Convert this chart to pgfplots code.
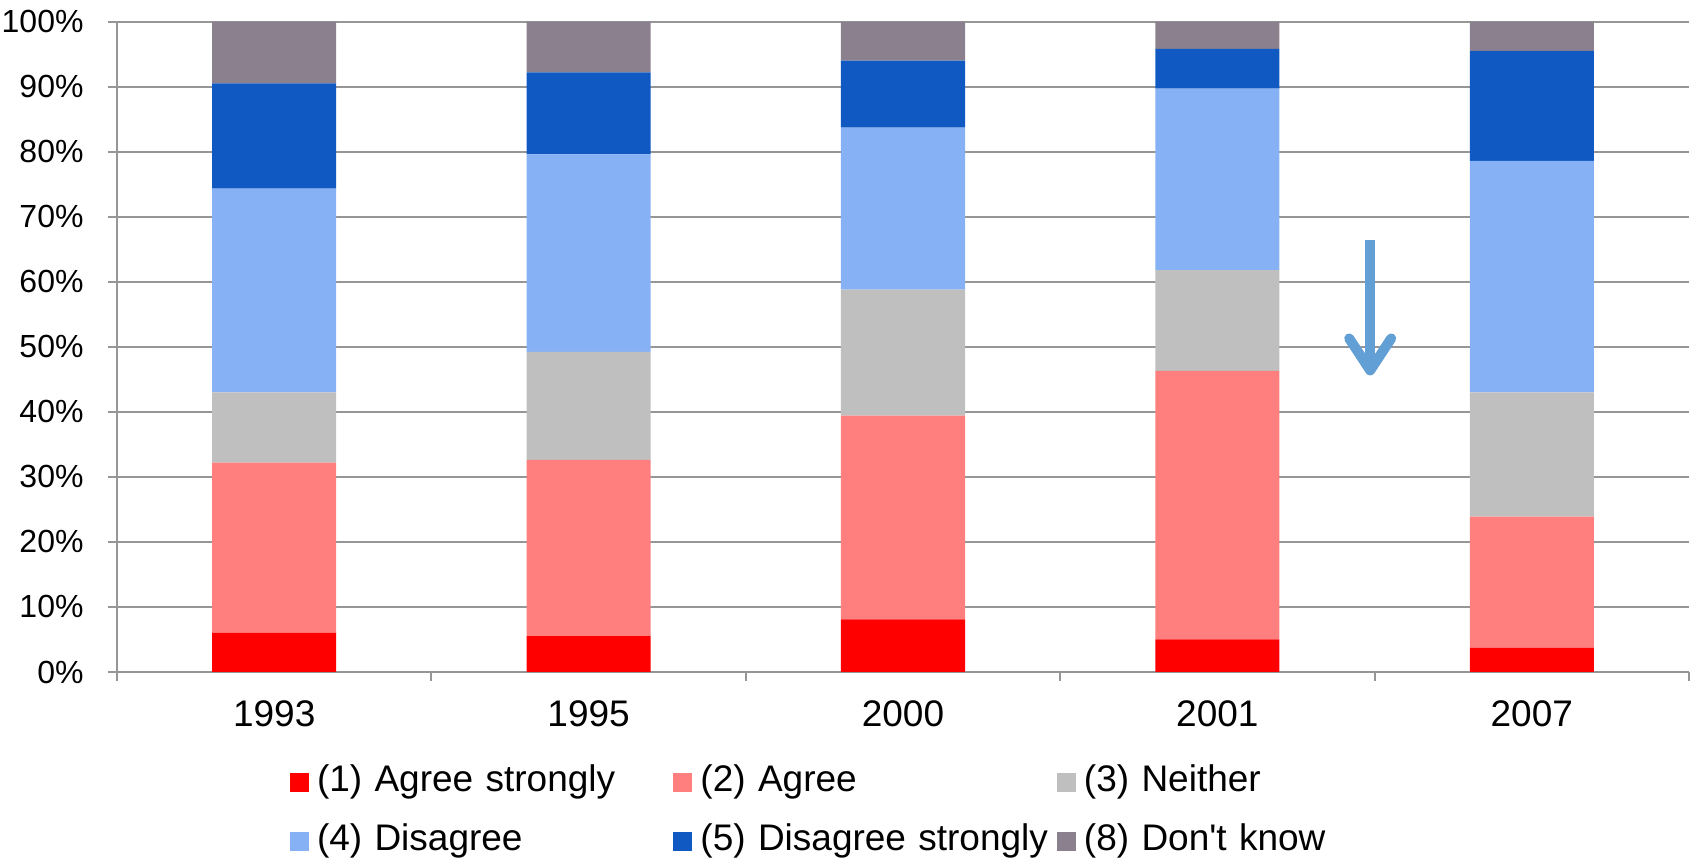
\documentclass[border=0pt]{standalone}
\usepackage{fontspec}
\setmainfont{Liberation Sans}
\usepackage{pgfplots}
\pgfplotsset{compat=1.18}
\usetikzlibrary{arrows.meta}
\definecolor{cA}{RGB}{255,0,0}
\definecolor{cB}{RGB}{255,127,127}
\definecolor{cC}{RGB}{191,191,191}
\definecolor{cD}{RGB}{134,178,245}
\definecolor{cE}{RGB}{16,89,194}
\definecolor{cF}{RGB}{139,128,141}
\definecolor{axgray}{RGB}{150,150,150}
\definecolor{arrowc}{RGB}{98,159,212}
\begin{document}
\begin{tikzpicture}
\begin{axis}[
  scale only axis, width=786pt, height=325.2pt,
  xmin=-0.5, xmax=4.5, ymin=0, ymax=100,
  ybar stacked, bar width=62pt,
  axis lines=left, axis line style={-, draw=axgray, line width=1pt},
  ymajorgrids, grid style={draw=axgray, line width=1pt},
  ytick={0,10,...,100},
  yticklabels={0\%,10\%,20\%,30\%,40\%,50\%,60\%,70\%,80\%,90\%,100\%},
  yticklabel style={xshift=-8.7pt, font=\fontsize{16}{19}\selectfont},
  tick align=outside, major tick length=4.5pt,
  tick style={draw=axgray, line width=1pt},
  xtick={-0.5,0.5,1.5,2.5,3.5,4.5}, xticklabels={},
  extra x ticks={0,1,2,3,4},
  extra x tick labels={1993,1995,2000,2001,2007},
  extra x tick style={major tick length=0pt, tick label style={yshift=-11pt, font=\fontsize{18.5}{21}\selectfont}},
  sq/.style={legend image code/.code={\fill[##1] (0pt,-4.75pt) rectangle (9.5pt,4.75pt); \path (13.5pt,0pt);}},
  legend columns=3, legend cell align=left,
  legend style={draw=none, fill=none, inner sep=0pt, outer sep=0pt,
    at={(0,0)}, anchor=north west, xshift=86.5pt, yshift=-46.5pt,
    font=\fontsize{18.5}{21}\selectfont,
    nodes={text width=178.25pt, inner xsep=0pt, inner ysep=0pt, text height=13.5pt, text depth=4pt},
    column sep=0pt, row sep=12pt},
]
\addplot[fill=cA, draw=none, sq] coordinates {(0,6.0) (1,5.5) (2,8.1) (3,5.0) (4,3.7)};
\addplot[fill=cB, draw=none, sq] coordinates {(0,26.2) (1,27.1) (2,31.3) (3,41.3) (4,20.2)};
\addplot[fill=cC, draw=none, sq] coordinates {(0,10.8) (1,16.6) (2,19.4) (3,15.5) (4,19.1)};
\addplot[fill=cD, draw=none, sq] coordinates {(0,31.3) (1,30.4) (2,24.9) (3,27.9) (4,35.6)};
\addplot[fill=cE, draw=none, sq] coordinates {(0,16.2) (1,12.6) (2,10.3) (3,6.1) (4,16.9)};
\addplot[fill=cF, draw=none, sq] coordinates {(0,9.5) (1,7.8) (2,6.0) (3,4.2) (4,4.5)};
\legend{(1) Agree strongly,(2) Agree,(3) Neither,(4) Disagree,(5) Disagree strongly,(8) Don\textquotesingle t know}
\draw[arrowc, line width=5pt, -{Straight Barb[length=16pt, width=21pt, round]}] (axis cs:3.486,66.4) -- (axis cs:3.486,45.6);
\end{axis}
\pgfresetboundingbox
\path[use as bounding box] (-58.5pt,-94pt) rectangle (788.5pt,336pt);
\end{tikzpicture}
\end{document}
